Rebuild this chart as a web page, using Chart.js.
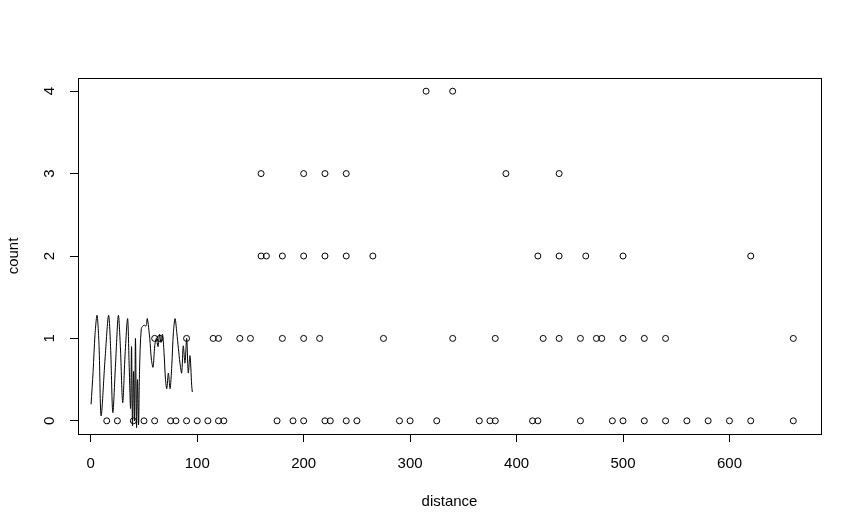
<!DOCTYPE html>
<html>
<head>
<meta charset="utf-8">
<script src="https://cdn.jsdelivr.net/npm/chart.js@4/dist/chart.umd.min.js"></script>
<style>
  html, body { margin: 0; padding: 0; background: #fff; }
  canvas { display: block; }
</style>
</head>
<body>
<canvas id="plot" width="862" height="532"></canvas>
<script>
// points: distance values for each count level
const dist0 = [15, 25, 40, 50, 60, 75, 80, 90, 100, 110, 120, 125, 175, 190, 200, 220, 225, 240, 250,
  290, 300, 325, 365, 375, 380, 415, 420, 460, 490, 500, 520, 540, 560, 580, 600, 620, 660];
const dist1 = [60, 65, 90, 115, 120, 140, 150, 180, 200, 215, 275, 340, 380, 425, 440, 460, 475, 480,
  500, 520, 540, 660];
const dist2 = [160, 165, 180, 200, 220, 240, 265, 420, 440, 465, 500, 620];
const dist3 = [160, 200, 220, 240, 390, 440];
const dist4 = [315, 340];

// wiggly line over the short distances
const lineDist = [0.3, 2.2, 4, 5.9, 7.8, 9.7, 13.4, 16.7, 18.6, 20.7, 23.3, 25.9, 27.8, 30, 32.2, 34.6,
  36, 37.4, 38.3, 39.2, 40.2, 41.1, 42, 43, 43.9, 44.9, 45.8, 47.5, 50, 51.9, 53.1, 55.4, 56.9, 58.5,
  60.1, 61.6, 63.2, 64.6, 66, 67.4, 68.8, 70.2, 71.4, 72.9, 74.5, 76.1, 77.6, 79.2, 80.8, 82.3, 83.8,
  85.4, 86.9, 88.5, 90.1, 91.6, 93.2, 94.8, 95.4];
const lineCount = [0.2, 0.6, 1.05, 1.28, 0.9, 0.06, 0.75, 1.28, 0.9, 0.1, 0.7, 1.28, 0.9, 0.22, 0.8, 1.24,
  0.7, 0.15, 0.9, -0.06, 0.6, 0.0, 1.0, -0.08, 0.5, -0.05, 0.6, 1.12, 1.16, 1.15, 1.24, 1.0, 0.75, 0.65,
  0.91, 1.0, 0.9, 1.05, 0.95, 1.05, 0.83, 0.5, 0.39, 0.58, 0.39, 0.67, 1.07, 1.24, 1.07, 0.88, 0.7,
  0.58, 0.91, 0.7, 1.0, 0.58, 0.79, 0.43, 0.35];

const xTicks = [0, 100, 200, 300, 400, 500, 600];
const yTicks = [0, 1, 2, 3, 4];
const xTitle = 'distance';
const yTitle = 'count';

const FONT = '15px "Liberation Sans", Arial, sans-serif';

const scatterData = [];
[dist0, dist1, dist2, dist3, dist4].forEach((arr, c) => {
  arr.forEach(d => scatterData.push({ x: d, y: c }));
});
const lineData = lineDist.map((d, i) => ({ x: d, y: lineCount[i] }));

// box round the plot region plus R-style labels
const rFrame = {
  id: 'rFrame',
  afterDraw(chart) {
    const ctx = chart.ctx;
    const a = chart.chartArea;
    const xs = chart.scales.x, ys = chart.scales.y;
    ctx.save();
    ctx.strokeStyle = '#000';
    ctx.lineWidth = 1;
    ctx.strokeRect(Math.round(a.left) + 0.5, Math.round(a.top) + 0.5,
      Math.round(a.right - a.left), Math.round(a.bottom - a.top));
    ctx.fillStyle = '#000';
    ctx.font = FONT;
    ctx.textAlign = 'center';
    ctx.textBaseline = 'middle';
    xTicks.forEach(v => ctx.fillText(String(v), xs.getPixelForValue(v), 464));
    ctx.fillText(xTitle, (a.left + a.right) / 2, 502);
    yTicks.forEach(v => {
      ctx.save();
      ctx.translate(50, ys.getPixelForValue(v));
      ctx.rotate(-Math.PI / 2);
      ctx.fillText(String(v), 0, 0);
      ctx.restore();
    });
    ctx.save();
    ctx.translate(14, (a.top + a.bottom) / 2);
    ctx.rotate(-Math.PI / 2);
    ctx.fillText(yTitle, 0, 0);
    ctx.restore();
    ctx.restore();
  }
};

new Chart(document.getElementById('plot'), {
  type: 'scatter',
  data: {
    datasets: [
      {
        data: scatterData,
        pointStyle: 'circle',
        pointRadius: 3,
        pointBorderWidth: 1,
        pointBorderColor: '#000',
        pointBackgroundColor: 'rgba(0,0,0,0)',
        showLine: false
      },
      {
        data: lineData,
        showLine: true,
        borderColor: '#000',
        borderWidth: 1,
        pointRadius: 0,
        tension: 0.3,
        fill: false
      }
    ]
  },
  options: {
    responsive: false,
    animation: false,
    devicePixelRatio: 1,
    layout: { padding: { top: 78, right: 41, left: 0, bottom: 0 } },
    plugins: { legend: { display: false }, tooltip: { enabled: false } },
    scales: {
      x: {
        type: 'linear',
        min: -12,
        max: 686,
        afterBuildTicks: s => { s.ticks = xTicks.map(v => ({ value: v })); },
        afterFit: s => { s.height = 98; },
        ticks: { display: false },
        grid: { drawOnChartArea: false, drawTicks: true, tickLength: 8, color: '#000' },
        border: { display: false }
      },
      y: {
        type: 'linear',
        min: -0.16,
        max: 4.16,
        afterBuildTicks: s => { s.ticks = yTicks.map(v => ({ value: v })); },
        afterFit: s => { s.width = 78; },
        ticks: { display: false },
        grid: { drawOnChartArea: false, drawTicks: true, tickLength: 8, color: '#000' },
        border: { display: false }
      }
    }
  },
  plugins: [rFrame]
});
</script>
</body>
</html>
